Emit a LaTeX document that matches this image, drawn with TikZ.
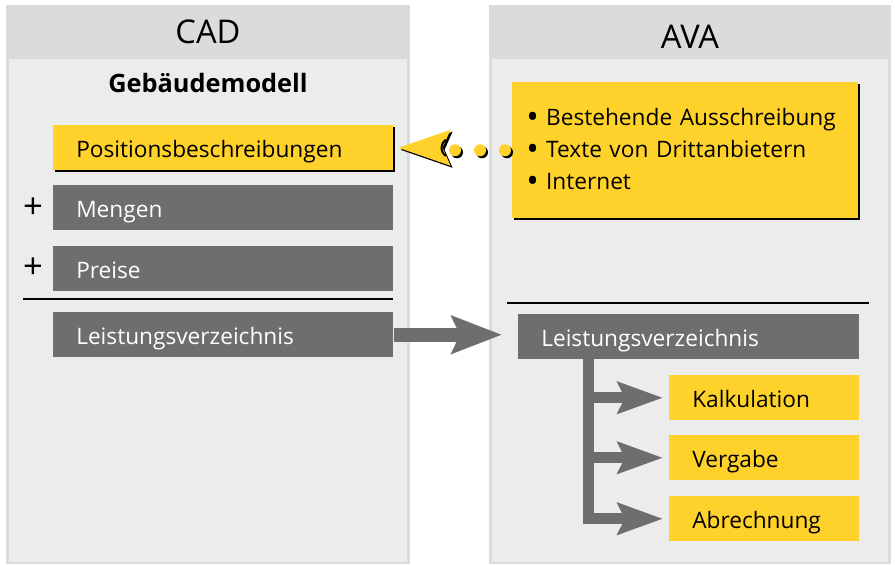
\documentclass[tikz,border=0pt]{standalone}
\usepackage{fontspec}
\setmainfont{Open Sans}
\usetikzlibrary{arrows.meta,shadows,calc}

\definecolor{avagelb}{HTML}{FFD22B}
\definecolor{lvgrau}{HTML}{6C6E70}
\definecolor{kopfgrau}{HTML}{DADBDD}
\definecolor{feldgrau}{HTML}{EBECEB}
\newcommand{\punkt}{\raisebox{-2.7pt}{\fontsize{25}{0}\selectfont\textbullet}\hspace{5.5pt}}

\begin{document}
\begin{tikzpicture}[x=0.75pt,y=-0.75pt,
  feld/.style={anchor=north west, minimum height=33.75pt, inner ysep=0pt, inner xsep=17.25pt,
    text height=14pt, text depth=0pt, align=left, font=\fontsize{17}{20}\selectfont},
  gelbfeld/.style={feld, fill=avagelb, text=black},
  graufeld/.style={feld, fill=lvgrau, text=white},
  schatten/.style={drop shadow={shadow xshift=1.6pt, shadow yshift=-1.6pt, fill=black, opacity=1}},
  kopf/.style={font=\fontsize{24.5}{28}\selectfont},
  plus/.style={font=\fontsize{26}{26}\selectfont},
  pfeil/.style={draw=lvgrau, line width=10.5pt, -{Stealth[length=37.5pt,width=27.75pt,inset=6pt]}},
  ast/.style={draw=lvgrau, line width=8.25pt, shorten >=4.5pt,
    -{Stealth[length=33.75pt,width=23.25pt,inset=5.25pt]}},
]
\useasboundingbox[fill=white] (0,0) rectangle (895,564);

% die beiden Spalten
\fill[kopfgrau] (6,5) rectangle (410,564);
\fill[feldgrau] (9,59) rectangle (407,562);
\fill[kopfgrau] (489,5) rectangle (891,564);
\fill[feldgrau] (492,59) rectangle (888,562);
\node[kopf] (cad) at (208,32) {CAD};
\node[kopf] (ava) at (690,37) {AVA};
\node[font=\fontsize{19}{22}\selectfont\bfseries] (modell) at (208,83) {Gebäudemodell};

% CAD
\node[gelbfeld, schatten, text width=220.5pt] (pos) at (53,125) {Positionsbeschreibungen};
\node[graufeld, text width=220.5pt] (mengen) at (53,185) {Mengen};
\node[graufeld, text width=220.5pt] (preise) at (53,246) {Preise};
\node[graufeld, text width=220.5pt] (cadLV) at (53,312) {Leistungsverzeichnis};
\node[plus] (plusA) at (33,208) {+};
\node[plus] (plusB) at (33,268) {+};
\draw[line width=1.5pt] (23,299) -- (393,299);

% AVA
\node[anchor=north west, fill=avagelb, schatten, text width=238.5pt, inner xsep=10.5pt,
  inner ysep=0pt, minimum height=102pt, align=left, font=\fontsize{17}{24}\selectfont] (quellen) at (512,82)
  {\punkt Bestehende Ausschreibung\\
   \punkt Texte von Drittanbietern\\
   \punkt Internet};
\draw[line width=1.5pt] (507,303) -- (869,303);
\node[graufeld, text width=221.25pt] (avaLV) at (518,314) {Leistungsverzeichnis};
\node[gelbfeld, text width=108pt] (kalk) at (669,375) {Kalkulation};
\node[gelbfeld, text width=108pt] (vergabe) at (669,435) {Vergabe};
\node[gelbfeld, text width=108pt] (abr) at (669,496) {Abrechnung};

% Pfeile
\draw[pfeil, shorten >=12pt] (cadLV.east) -- (cadLV.east -| avaLV.west);
\coordinate (stamm) at ($(avaLV.south west)+(70,-1)$);
\draw[ast, line join=miter] (stamm) |- (abr.west);
\draw[ast] (stamm |- kalk.west) -- (kalk.west);
\draw[ast] (stamm |- vergabe.west) -- (vergabe.west);

% gepunktete Verbindung
\coordinate (spitze) at ($(pos.east)+(5,0)$);
\draw[black, line width=9pt, line cap=round, dash pattern=on 0pt off 18.75pt, dash phase=13.5pt]
  ($(quellen.west)+(2,2)$) -- ($(quellen.west)+(-58,2)$);
\draw[avagelb, line width=9pt, line cap=round, dash pattern=on 0pt off 18.75pt, dash phase=13.5pt]
  (quellen.west) -- ($(quellen.west)+(-60,0)$);
\fill[black] ($(spitze)+(2,2)$) -- ++(52,-18) -- ++(-8,18) -- ++(8,18) -- cycle;
\fill[avagelb] (spitze) -- ++(52,-18) -- ++(-8,18) -- ++(8,18) -- cycle;
\draw[line width=1.5pt] ($(spitze)+(53-5.7,8.2)$) arc[start angle=125, end angle=235, radius=10];
\end{tikzpicture}
\end{document}
